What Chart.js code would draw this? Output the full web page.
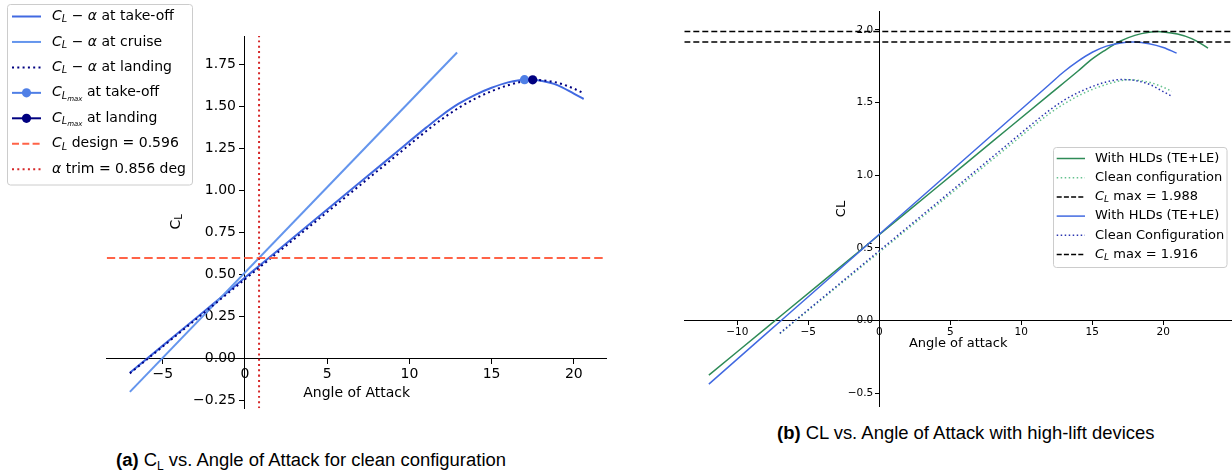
<!DOCTYPE html>
<html><head><meta charset="utf-8">
<script src="https://cdn.jsdelivr.net/npm/chart.js@4.4.1/dist/chart.umd.min.js"></script>
<style>
html,body{margin:0;padding:0;background:#fff;width:1232px;height:474px;overflow:hidden;position:relative;}
canvas{position:absolute;}
#ca{left:0;top:0;}
#cb{left:672px;top:0;}
.cap{position:absolute;font-family:"Liberation Sans",Arial,sans-serif;font-size:18.45px;color:#000;white-space:nowrap;line-height:1;}
.cap sub{font-size:12px;vertical-align:-4px;line-height:0;}
</style></head><body>
<canvas id="ca" width="620" height="420"></canvas>
<canvas id="cb" width="560" height="420"></canvas>
<div class="cap" style="left:116px;top:451px"><b>(a)</b> C<sub>L</sub> vs. Angle of Attack for clean configuration</div>
<div class="cap" style="left:777px;top:424px"><b>(b)</b> CL vs. Angle of Attack with high-lift devices</div>
<script>
// ---------- data ----------
const ALPHA_CLEAN = [-7,-5,-3,-1,0,1,3,5,7,9,11,12,13,14,15,16,17,17.5,18,19,20,20.6];
const CL_TAKEOFF  = [-0.087,0.075,0.237,0.399,0.48,0.561,0.723,0.885,1.047,1.209,1.371,1.448,1.515,1.568,1.61,1.642,1.658,1.657,1.652,1.626,1.575,1.543];
const CL_LANDING  = [-0.09,0.07,0.23,0.39,0.47,0.55,0.71,0.87,1.03,1.19,1.35,1.425,1.49,1.545,1.59,1.625,1.65,1.657,1.655,1.64,1.605,1.577];
const ALPHA_CRUISE = [-7, 12.9];
const CL_CRUISE    = [-0.20, 1.82];
const CLMAX_TAKEOFF = {alpha: 17.0, cl: 1.658};
const CLMAX_LANDING = {alpha: 17.5, cl: 1.657};
const CL_DESIGN = 0.596;
const ALPHA_TRIM = 0.856;

const ALPHA_HLD_1 = [-12,-8,-4,0,4,8,12,14,15,16,16.5,17,18,19,19.6,20,21,22,23.15];
const CL_HLD_1    = [-0.376,-0.054,0.268,0.59,0.912,1.234,1.556,1.717,1.80,1.866,1.897,1.924,1.962,1.983,1.988,1.986,1.971,1.94,1.875];
const ALPHA_HLD_2 = [-12,-8,-4,0,4,8,12,13,14,15,16,17,17.8,18,19,20,20.94];
const CL_HLD_2    = [-0.438,-0.094,0.25,0.594,0.938,1.282,1.626,1.712,1.785,1.846,1.888,1.91,1.916,1.916,1.905,1.879,1.84];
const CLMAX_HLD = [1.988, 1.916];

const XRANGE_A = [-8.41, 22.0],  YRANGE_A = [-0.298, 1.918];
const XRANGE_B = [-13.73, 24.84], YRANGE_B = [-0.593, 2.125];
const XTICKS_A = [-5,0,5,10,15,20];
const XTICK_LABELS_A = ['\u22125','0','5','10','15','20'];
const YTICKS_A = [-0.25,0,0.25,0.5,0.75,1.0,1.25,1.5,1.75];
const YTICK_LABELS_A = ['\u22120.25','0.00','0.25','0.50','0.75','1.00','1.25','1.50','1.75'];
const XTICKS_B = [-10,-5,0,5,10,15,20];
const XTICK_LABELS_B = ['\u221210','\u22125','0','5','10','15','20'];
const YTICKS_B = [-0.5,0,0.5,1.0,1.5,2.0];
const YTICK_LABELS_B = ['\u22120.5','0.0','0.5','1.0','1.5','2.0'];

const LEGEND_A = [
  [['C','i'],['L','si'],[' \u2212 ','n'],['\u03b1','i'],[' at take-off','n']],
  [['C','i'],['L','si'],[' \u2212 ','n'],['\u03b1','i'],[' at cruise','n']],
  [['C','i'],['L','si'],[' \u2212 ','n'],['\u03b1','i'],[' at landing','n']],
  [['C','i'],['L','si'],['max','ssi'],[' at take-off','n']],
  [['C','i'],['L','si'],['max','ssi'],[' at landing','n']],
  [['C','i'],['L','si'],[' design = 0.596','n']],
  [['\u03b1','i'],[' trim = 0.856 deg','n']]
];
const LEGEND_B = [
  [['With HLDs (TE+LE)','n']],
  [['Clean configuration','n']],
  [['C','i'],['L','si'],[' max = 1.988','n']],
  [['With HLDs (TE+LE)','n']],
  [['Clean Configuration','n']],
  [['C','i'],['L','si'],[' max = 1.916','n']]
];

// ---------- helpers ----------
const pts = (xs, ys) => xs.map((x, i) => ({x, y: ys[i]}));
function fontFor(st, size){
  const sc = (st==='si'||st==='sn') ? 0.7 : st==='ssi' ? 0.5 : 1;
  const it = (st==='n'||st==='sn') ? '' : 'italic ';
  return it + (size*sc).toFixed(2) + 'px "DejaVu Sans"';
}
function offFor(st, size){ return (st==='si'||st==='sn') ? size*0.24 : st==='ssi' ? size*0.45 : 0; }
function richWidth(ctx, segs, size){ let w=0; for (const [t,st] of segs){ ctx.font = fontFor(st,size); w += ctx.measureText(t).width; } return w; }
function drawRich(ctx, x, y, segs, size, color){
  ctx.save(); ctx.fillStyle = color; ctx.textBaseline = 'middle'; ctx.textAlign = 'left';
  let cx = x;
  for (const [t,st] of segs){ ctx.font = fontFor(st,size); ctx.fillText(t, cx, y + offFor(st,size)); cx += ctx.measureText(t).width; }
  ctx.restore();
}
function drawCentered(ctx, cx, cy, segs, size, color, rot){
  ctx.save(); ctx.translate(cx, cy); if (rot) ctx.rotate(rot);
  const w = richWidth(ctx, segs, size);
  drawRich(ctx, -w/2, 0, segs, size, color);
  ctx.restore();
}
function handle(ctx, x1, x2, y, h){
  ctx.save();
  ctx.strokeStyle = h.color; ctx.lineWidth = h.width; ctx.setLineDash(h.dash || []);
  ctx.beginPath(); ctx.moveTo(x1, y); ctx.lineTo(x2, y); ctx.stroke();
  if (h.marker){ ctx.setLineDash([]); ctx.fillStyle = h.color; ctx.beginPath(); ctx.arc((x1+x2)/2, y, h.marker, 0, Math.PI*2); ctx.fill(); }
  ctx.restore();
}
function legendBox(ctx, x, y, w, h){
  ctx.save();
  ctx.beginPath(); ctx.roundRect(x, y, w, h, 3);
  ctx.fillStyle = 'rgba(255,255,255,0.8)'; ctx.fill();
  ctx.strokeStyle = '#cccccc'; ctx.lineWidth = 1; ctx.stroke();
  ctx.restore();
}
const shiftYLabels = dx => ({
  id: 'shiftYLabels',
  beforeDraw(chart){
    const items = chart.scales.y.getLabelItems();
    if (!items._shifted){ items.forEach(it => { it.options.translation[0] -= dx; }); items._shifted = true; }
  }
});
function axisOpts(pos, range, ticks, labels, fontSize, tl, pad){
  return {
    type: 'linear', position: pos, min: range[0], max: range[1],
    afterBuildTicks: s => { s.ticks = ticks.map(v => ({value: v})); },
    ticks: { callback: (v, i) => labels[i], font: {family: 'DejaVu Sans', size: fontSize}, color: '#000', padding: pad, maxRotation: 0, autoSkip: false },
    grid: { display: true, drawOnChartArea: false, drawTicks: true, tickLength: tl, tickColor: '#000', tickWidth: 1 },
    border: { display: true, color: '#000', width: 1 }
  };
}

// ---------- chart (a) ----------
const COL = {takeoff:'#4169E1', cruise:'#6495ED', landing:'#000080', mTake:'#4f7fe6', mLand:'#000080', design:'#ff6347', trim:'#d62728'};
const dsA = [
  {data: pts(ALPHA_CLEAN, CL_TAKEOFF), borderColor: COL.takeoff, borderWidth: 2, order: 7},
  {data: pts(ALPHA_CRUISE, CL_CRUISE), borderColor: COL.cruise, borderWidth: 2, order: 6},
  {data: pts(ALPHA_CLEAN, CL_LANDING), borderColor: COL.landing, borderWidth: 2, borderDash: [2, 3.3], order: 5},
  {data: [{x: CLMAX_TAKEOFF.alpha, y: CLMAX_TAKEOFF.cl}], showLine: false, pointRadius: 4.6, backgroundColor: COL.mTake, borderWidth: 0, order: 4},
  {data: [{x: CLMAX_LANDING.alpha, y: CLMAX_LANDING.cl}], showLine: false, pointRadius: 4.6, backgroundColor: COL.mLand, borderWidth: 0, order: 3},
  {data: [{x: XRANGE_A[0], y: CL_DESIGN}, {x: XRANGE_A[1], y: CL_DESIGN}], borderColor: COL.design, borderWidth: 2, borderDash: [8.5, 4], order: 2},
  {data: [{x: ALPHA_TRIM, y: YRANGE_A[0]}, {x: ALPHA_TRIM, y: YRANGE_A[1]}], borderColor: COL.trim, borderWidth: 2, borderDash: [2, 3.3], order: 1}
].map(d => Object.assign({showLine: true, pointRadius: 0, cubicInterpolationMode: 'monotone', fill: false}, d));

const decoA = {
  id: 'decoA',
  afterDraw(chart){
    const ctx = chart.ctx;
    drawCentered(ctx, 356.7, 393, [['Angle of Attack','n']], 14, '#000');
    drawCentered(ctx, 176.5, 222, [['C','n'],['L','sn']], 14, '#000', -Math.PI/2);
    legendBox(ctx, 7.5, 4.5, 185, 180.5);
    const hs = [
      {color: COL.takeoff, width: 2},
      {color: COL.cruise, width: 2},
      {color: COL.landing, width: 2, dash: [2, 3.3]},
      {color: COL.mTake, width: 2, marker: 4.6},
      {color: COL.mLand, width: 2, marker: 4.6},
      {color: COL.design, width: 2, dash: [7, 3.3]},
      {color: COL.trim, width: 2, dash: [2, 3.3]}
    ];
    LEGEND_A.forEach((segs, i) => {
      const y = 16.5 + i*25.45;
      handle(ctx, 12, 41, y, hs[i]);
      drawRich(ctx, 52, y, segs, 14, '#000');
    });
  }
};

new Chart(document.getElementById('ca'), {
  type: 'scatter',
  data: {datasets: dsA},
  options: {
    responsive: false, animation: false, devicePixelRatio: 1,
    layout: {padding: {left: 106.7, right: 13.3, top: 36, bottom: 11.7}},
    plugins: {legend: {display: false}, tooltip: {enabled: false}},
    scales: {
      x: axisOpts({y: 0}, XRANGE_A, XTICKS_A, XTICK_LABELS_A, 14, 5, 3),
      y: axisOpts({x: 0}, YRANGE_A, YTICKS_A, YTICK_LABELS_A, 14, 5, 3)
    }
  },
  plugins: [shiftYLabels(9), decoA]
});

// ---------- chart (b) ----------
const COLB = {hld1:'#2e8b57', clean1:'#66c28f', hld2:'#4169e1', clean2:'#2a35b0', cmax:'#000000'};
const dsB = [
  {data: pts(ALPHA_HLD_1, CL_HLD_1), borderColor: COLB.hld1, order: 6},
  {data: pts(ALPHA_CLEAN, CL_LANDING), borderColor: COLB.clean1, borderDash: [1.5, 2.5], order: 5},
  {data: [{x: XRANGE_B[0], y: CLMAX_HLD[0]}, {x: XRANGE_B[1], y: CLMAX_HLD[0]}], borderColor: COLB.cmax, borderDash: [6, 3], order: 4},
  {data: pts(ALPHA_HLD_2, CL_HLD_2), borderColor: COLB.hld2, order: 3},
  {data: pts(ALPHA_CLEAN, CL_TAKEOFF), borderColor: COLB.clean2, borderDash: [1.5, 2.5], order: 2},
  {data: [{x: XRANGE_B[0], y: CLMAX_HLD[1]}, {x: XRANGE_B[1], y: CLMAX_HLD[1]}], borderColor: COLB.cmax, borderDash: [6, 3], order: 1}
].map(d => Object.assign({showLine: true, pointRadius: 0, borderWidth: 1.5, cubicInterpolationMode: 'monotone', fill: false}, d));

const OX = 672;
const decoB = {
  id: 'decoB',
  afterDraw(chart){
    const ctx = chart.ctx;
    drawCentered(ctx, 958.2 - OX, 344, [['Angle of attack','n']], 13, '#000');
    drawCentered(ctx, 841.5 - OX, 209, [['CL','n']], 13, '#000', -Math.PI/2);
    legendBox(ctx, 1053.5 - OX, 147.5, 173.5, 120);
    const hs = [
      {color: COLB.hld1, width: 1.5},
      {color: COLB.clean1, width: 1.5, dash: [1.5, 2.5]},
      {color: COLB.cmax, width: 1.5, dash: [5, 2.2]},
      {color: COLB.hld2, width: 1.5},
      {color: COLB.clean2, width: 1.5, dash: [1.5, 2.5]},
      {color: COLB.cmax, width: 1.5, dash: [5, 2.2]}
    ];
    LEGEND_B.forEach((segs, i) => {
      const y = 158.5 + i*19.2;
      handle(ctx, 1056.7 - OX, 1085 - OX, y, hs[i]);
      drawRich(ctx, 1095 - OX, y, segs, 13, '#000');
    });
  }
};

new Chart(document.getElementById('cb'), {
  type: 'scatter',
  data: {datasets: dsB},
  options: {
    responsive: false, animation: false, devicePixelRatio: 1,
    layout: {padding: {left: 684.3 - OX, right: 0, top: 11.7, bottom: 13.3}},
    plugins: {legend: {display: false}, tooltip: {enabled: false}},
    scales: {
      x: axisOpts({y: 0}, XRANGE_B, XTICKS_B, XTICK_LABELS_B, 10.5, 4, 1.5),
      y: axisOpts({x: 0}, YRANGE_B, YTICKS_B, YTICK_LABELS_B, 10.5, 4, 1.5)
    }
  },
  plugins: [shiftYLabels(6), decoB]
});
</script>
</body></html>
